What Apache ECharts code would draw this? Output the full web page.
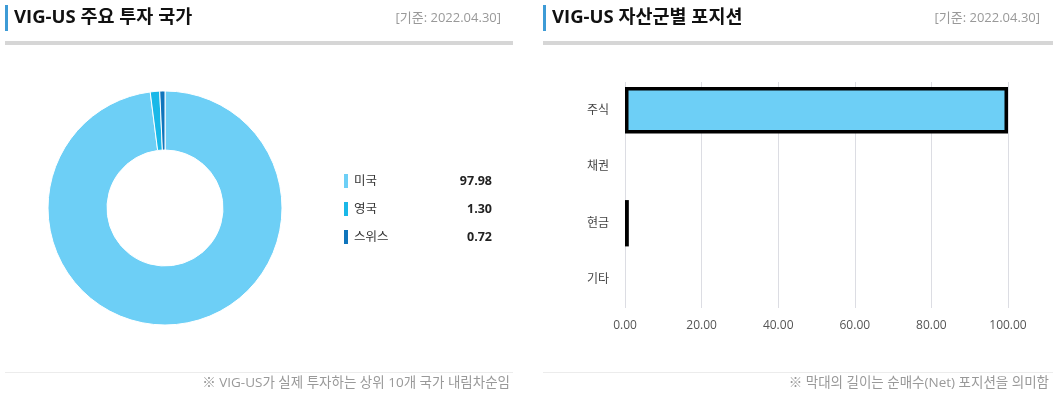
<!DOCTYPE html>
<html><head><meta charset="utf-8">
<script src="https://cdn.jsdelivr.net/npm/echarts@6/dist/echarts.min.js"></script>
<style>html,body{margin:0;padding:0;background:#fff}#c{width:1053px;height:397px}</style>
</head><body><div id="c"></div>
<script>
const countries = ['미국', '영국', '스위스'];
const countryValues = [97.98, 1.30, 0.72];
const countryColors = ['#6dcff6', '#1ab8e8', '#0f75bc'];
const assetClasses = ['주식', '채권', '현금', '기타'];
const assetValues = [100.0, 0, 1.0, 0];
const xTicks = [0, 20, 40, 60, 80, 100];

const FONT = '"Open Sans","Noto Sans CJK KR",sans-serif';
const chart = echarts.init(document.getElementById('c'), null, {renderer: 'canvas'});

function header(x0, x1, title, lineEnd) {
  return [
    {type: 'rect', shape: {x: x0, y: 5, width: 3, height: 26}, style: {fill: '#3d9bd6'}},
    {type: 'text', x: x0 + 9, y: 18, style: {text: title, font: 'bold 18.5px ' + FONT, fill: '#111', verticalAlign: 'middle'}},
    {type: 'text', x: x1, y: 18, style: {text: '[기준: 2022.04.30]', font: '13px ' + FONT, fill: '#999', align: 'right', verticalAlign: 'middle'}},
    {type: 'rect', shape: {x: x0, y: 41, width: lineEnd - x0, height: 4}, style: {fill: '#d6d6d6'}},
    {type: 'rect', shape: {x: x0, y: 372, width: lineEnd - x0, height: 1}, style: {fill: '#ececec'}}
  ];
}

const graphics = [].concat(
  header(5, 501, 'VIG-US 주요 투자 국가', 513),
  header(543, 1040, 'VIG-US 자산군별 포지션', 1053),
  [
    {type: 'text', x: 510, y: 383, style: {text: '※ VIG-US가 실제 투자하는 상위 10개 국가 내림차순임', font: '13.5px ' + FONT, fill: '#999', align: 'right', verticalAlign: 'middle'}},
    {type: 'text', x: 1049, y: 383, style: {text: '※ 막대의 길이는 순매수(Net) 포지션을 의미함', font: '13.5px ' + FONT, fill: '#999', align: 'right', verticalAlign: 'middle'}}
  ]
);

const pieData = countries.map((n, i) => ({name: n, value: countryValues[i], itemStyle: {color: countryColors[i]}}));
const valMap = {};
countries.forEach((n, i) => valMap[n] = countryValues[i].toFixed(2));

chart.setOption({
  animation: false,
  textStyle: {fontFamily: FONT},
  graphic: graphics,
  legend: {
    orient: 'vertical', left: 337, top: 167,
    itemWidth: 6, itemHeight: 16, itemGap: 10,
    icon: 'rect',
    data: countries,
    formatter: n => '{n|' + n + '}{v|' + valMap[n] + '}',
    textStyle: {
      rich: {
        n: {width: 90, fontSize: 12.5, color: '#333', fontFamily: FONT},
        v: {width: 48, align: 'right', fontSize: 12.5, fontWeight: 'bold', color: '#222', fontFamily: FONT}
      }
    }
  },
  grid: {left: 625, right: 45, top: 82, bottom: 89},
  xAxis: {
    type: 'value', min: 0, max: 100, interval: 20,
    axisLine: {show: false}, axisTick: {show: false},
    axisLabel: {formatter: v => v.toFixed(2), color: '#555', fontSize: 12, margin: 12},
    splitLine: {lineStyle: {color: '#dcdde3'}}
  },
  yAxis: {
    type: 'category', data: assetClasses, inverse: true,
    axisLine: {show: false}, axisTick: {show: false},
    axisLabel: {color: '#444', fontSize: 12, margin: 16}
  },
  series: [
    {
      type: 'pie', center: [165, 208], radius: [58, 117],
      startAngle: 90, clockwise: true,
      label: {show: false}, labelLine: {show: false},
      itemStyle: {borderColor: '#fff', borderWidth: 1},
      data: pieData
    },
    {
      type: 'bar', data: assetValues.map(v => v === 0 ? '-' : v), barWidth: '82%',
      itemStyle: {color: '#6dcff6', borderColor: '#000', borderWidth: 3.5}
    }
  ]
});
</script></body></html>
